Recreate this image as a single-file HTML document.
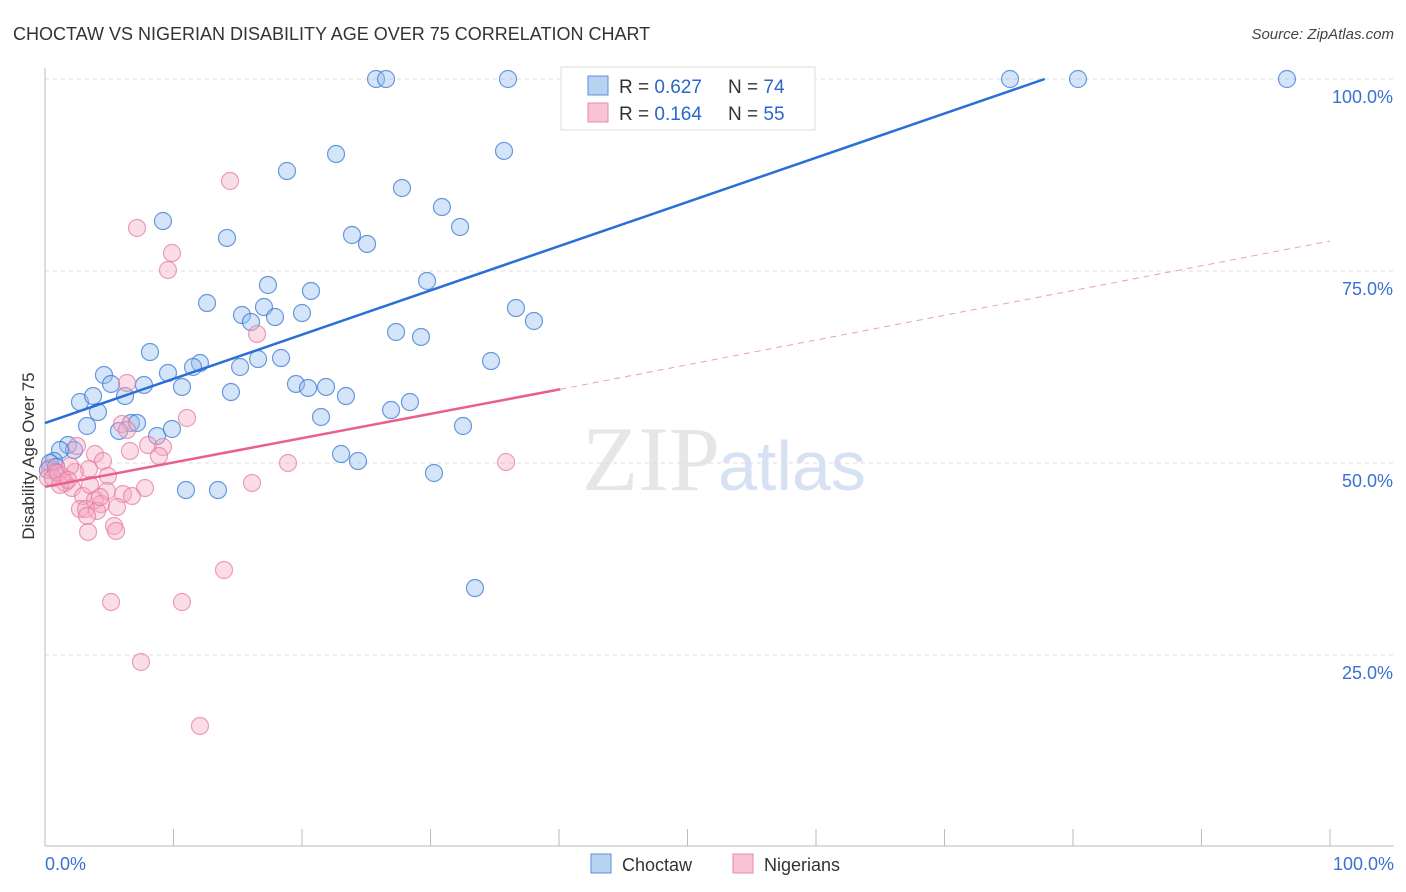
<!DOCTYPE html>
<html><head><meta charset="utf-8"><style>
body{margin:0;background:#fff;font-family:"Liberation Sans",sans-serif;}
svg{display:block}
</style></head><body>
<svg id="chart" width="1406" height="892" viewBox="0 0 1406 892">
<text x="13" y="40" font-size="18" fill="#333">CHOCTAW VS NIGERIAN DISABILITY AGE OVER 75 CORRELATION CHART</text>
<text x="1394" y="39" font-size="15" fill="#444" font-style="italic" text-anchor="end">Source: ZipAtlas.com</text>
<text x="720" y="490" font-size="92" fill="#e6e6e6" font-family="Liberation Serif" text-anchor="end">ZIP</text>
<text x="718" y="490" font-size="70" fill="#d6e2f3">atlas</text>
<g id="grid"></g>
<line x1="45" y1="68" x2="45" y2="846" stroke="#bbb"/>
<line x1="45" y1="846" x2="1394" y2="846" stroke="#bbb"/>
<text transform="translate(34,456) rotate(-90)" font-size="17" fill="#333" text-anchor="middle">Disability Age Over 75</text>
<text x="45" y="870" font-size="18" fill="#3b6fd4">0.0%</text>
<text x="1394" y="870" font-size="18" fill="#3b6fd4" text-anchor="end">100.0%</text>
<g id="marks"></g>
<g>
<rect x="561" y="67" width="254" height="63" fill="#fff" stroke="#ddd"/>
<rect x="588" y="76" width="20" height="19" fill="#b8d2f2" stroke="#5b8fd8"/>
<rect x="588" y="103" width="20" height="19" fill="#f8c3d3" stroke="#e88aa7"/>
<text x="619" y="93" font-size="19" fill="#333">R = <tspan fill="#2a66cc">0.627</tspan></text>
<text x="728" y="93" font-size="19" fill="#333">N = <tspan fill="#2a66cc">74</tspan></text>
<text x="619" y="120" font-size="19" fill="#333">R = <tspan fill="#2a66cc">0.164</tspan></text>
<text x="728" y="120" font-size="19" fill="#333">N = <tspan fill="#2a66cc">55</tspan></text>
</g>
<g>
<rect x="591" y="854" width="20" height="19" fill="#b8d2f2" stroke="#5b8fd8"/>
<text x="622" y="871" font-size="18" fill="#333">Choctaw</text>
<rect x="733" y="854" width="20" height="19" fill="#f8c3d3" stroke="#e88aa7"/>
<text x="764" y="871" font-size="18" fill="#333">Nigerians</text>
</g>
</svg>
<script>
const yTicks=[25,50,75,100];
const yTickLabels=["25.0%","50.0%","75.0%","100.0%"];
const xTickVals=[0,10,20,30,40,50,60,70,80,90,100];
const choctawPx=[[376,79],[386,79],[508,79],[630,79],[1010,79],[1078,79],[1287,79],[504,151],[336,154],[287,171],[402,188],[442,207],[163,221],[460,227],[352,235],[367,244],[227,238],[268,285],[311,291],[427,281],[207,303],[264,307],[242,315],[302,313],[275,317],[251,322],[516,308],[534,321],[396,332],[421,337],[150,352],[491,361],[258,359],[281,358],[200,363],[193,367],[240,367],[168,373],[104,375],[111,384],[144,385],[182,387],[296,384],[326,387],[308,388],[231,392],[346,396],[80,402],[93,396],[125,396],[410,402],[391,410],[98,412],[321,417],[131,423],[137,423],[87,426],[119,431],[463,426],[157,436],[172,429],[68,445],[74,450],[60,450],[341,454],[358,461],[54,461],[50,463],[186,490],[218,490],[434,473],[475,588],[48,470],[56,467]];
const nigerianPx=[[230,181],[137,228],[172,253],[168,270],[257,334],[127,383],[187,418],[122,424],[127,430],[148,445],[163,447],[130,451],[77,446],[95,454],[103,461],[159,456],[288,463],[506,462],[89,469],[75,472],[50,468],[56,472],[62,476],[108,476],[65,483],[72,488],[252,483],[145,488],[107,491],[123,494],[132,496],[83,496],[95,500],[101,504],[117,507],[80,509],[86,509],[97,511],[87,516],[114,526],[116,531],[88,532],[224,570],[111,602],[182,602],[141,662],[200,726],[48,478],[53,478],[58,473],[70,466],[100,497],[90,485],[60,485],[68,480]];
const toVal=p=>[+((p[0]-45)/12.85).toFixed(2),+((847-p[1])/7.68).toFixed(2)];
const choctawX=choctawPx.map(p=>toVal(p)[0]), choctawY=choctawPx.map(p=>toVal(p)[1]);
const nigerianX=nigerianPx.map(p=>toVal(p)[0]), nigerianY=nigerianPx.map(p=>toVal(p)[1]);
const blueLine=[[0,55.2],[77.8,100]];
const pinkLine=[[0,46.9],[40.1,59.6]];
const pinkDash=[[40.1,59.6],[100,78.9]];
const sx=v=>45+v*12.85, sy=v=>847-v*7.68;
const NS="http://www.w3.org/2000/svg";
const grid=document.getElementById('grid'), marks=document.getElementById('marks');
yTicks.forEach((t,i)=>{
 const l=document.createElementNS(NS,'line');
 l.setAttribute('x1',45);l.setAttribute('x2',1394);l.setAttribute('y1',sy(t));l.setAttribute('y2',sy(t));
 l.setAttribute('stroke','#ddd');l.setAttribute('stroke-dasharray','4 4');
 
 
 grid.appendChild(l);
 const tx=document.createElementNS(NS,'text');
 tx.setAttribute('x',1393);tx.setAttribute('y',sy(t)+24);tx.setAttribute('text-anchor','end');
 tx.setAttribute('font-size','18');tx.setAttribute('fill','#3b6fd4');tx.textContent=yTickLabels[i];
 
 
 grid.appendChild(tx);
});
xTickVals.forEach(v=>{
 const l=document.createElementNS(NS,'line');
 l.setAttribute('x1',sx(v));l.setAttribute('x2',sx(v));l.setAttribute('y1',829);l.setAttribute('y2',846);
 l.setAttribute('stroke','#bbb');
 
 
 grid.appendChild(l);
});
function dots(xs,ys,fill,stroke,name){
 xs.forEach((x,i)=>{
  const c=document.createElementNS(NS,'circle');
  c.setAttribute('cx',sx(x));c.setAttribute('cy',sy(ys[i]));c.setAttribute('r',8.5);
  c.setAttribute('fill',fill);c.setAttribute('stroke',stroke);c.setAttribute('stroke-width','1.2');
  
  
  marks.appendChild(c);
 });
}
dots(choctawX,choctawY,'rgba(150,190,240,0.4)','rgba(60,120,210,0.75)','choctaw-point');
dots(nigerianX,nigerianY,'rgba(245,170,195,0.4)','rgba(230,120,160,0.7)','nigerian-point');
function line(pts,color,w,dash,name){
 const l=document.createElementNS(NS,'line');
 l.setAttribute('x1',sx(pts[0][0]));l.setAttribute('y1',sy(pts[0][1]));
 l.setAttribute('x2',sx(pts[1][0]));l.setAttribute('y2',sy(pts[1][1]));
 l.setAttribute('stroke',color);l.setAttribute('stroke-width',w);
 if(dash)l.setAttribute('stroke-dasharray',dash);
 
 
 marks.appendChild(l);
}
line(blueLine,'#2a6fd6',2.5,null,'choctaw-trend-line');
line(pinkLine,'#e8608c',2.5,null,'nigerian-trend-line');
line(pinkDash,'#e8a0b8',1,'6 5','nigerian-trend-extension');
</script>
</body></html>
